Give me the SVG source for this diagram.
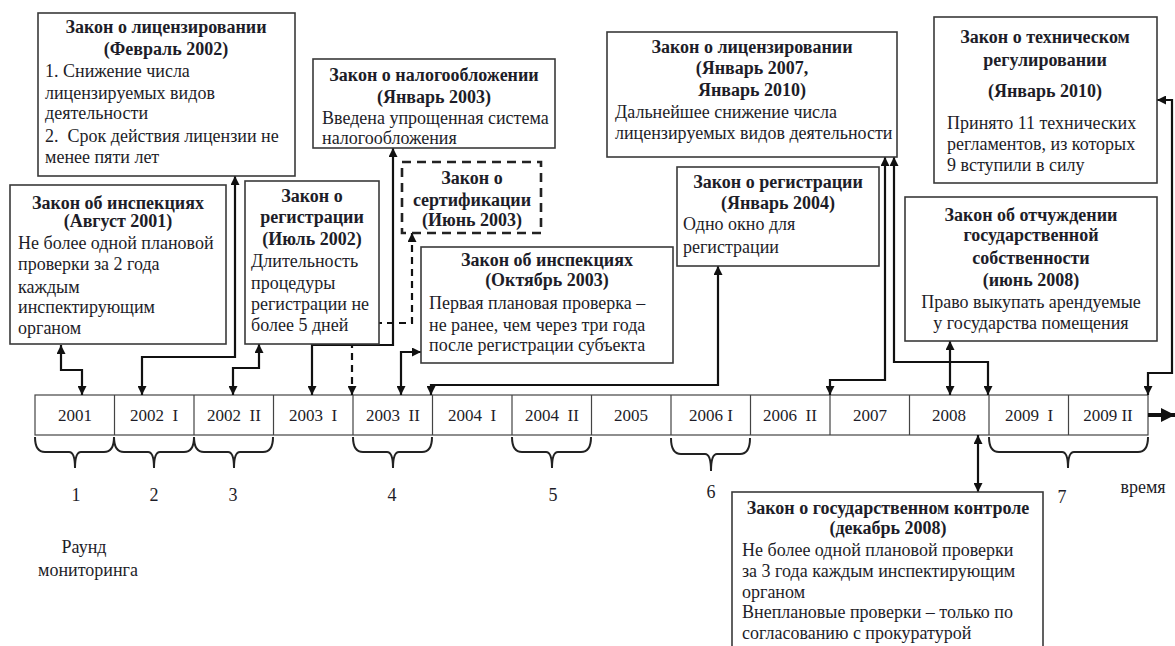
<svg xmlns="http://www.w3.org/2000/svg" width="1175" height="646" viewBox="0 0 1175 646" font-family="'Liberation Serif', 'DejaVu Serif', serif">
<style>
text{font-family:'Liberation Serif','Times New Roman',serif;fill:#1d1d28;font-size:18px}
.t{font-weight:bold;text-anchor:middle}
.c{text-anchor:middle}
.y{text-anchor:middle;font-size:17px}
.box{fill:#fff;stroke:#3a3a3a;stroke-width:1.6}
.dash{fill:#fff;stroke:#222;stroke-width:2.6;stroke-dasharray:9 6}
.ln{fill:none;stroke:#111;stroke-width:2.2;marker-start:url(#ah);marker-end:url(#ah)}
.dl{fill:none;stroke:#111;stroke-width:2.2;stroke-dasharray:7 5;marker-start:url(#ah);marker-end:url(#ah)}
.br{fill:none;stroke:#222;stroke-width:2}
.cell{fill:#fff;stroke:#444;stroke-width:1.2}
</style>
<defs>
<marker id="ah" viewBox="0 0 10 10" refX="10" refY="5" markerWidth="9" markerHeight="9" markerUnits="userSpaceOnUse" orient="auto-start-reverse">
<path d="M0,0 L10,5 L0,10 z" fill="#111"/>
</marker>
<marker id="big" viewBox="0 0 10 10" refX="10" refY="5" markerWidth="14" markerHeight="14" markerUnits="userSpaceOnUse" orient="auto">
<path d="M0,0 L10,5 L0,10 z" fill="#111"/>
</marker>
</defs>

<g id="timeline">
<rect class="cell" x="35" y="395" width="1113" height="40"/>
<path d="M114.5,395V435M194,395V435M273.5,395V435M353,395V435M432.5,395V435M512,395V435M591.5,395V435M671,395V435M750.5,395V435M830,395V435M909.5,395V435M989,395V435M1068.5,395V435" stroke="#444" stroke-width="1.2"/>
<text class="y" x="75" y="421">2001</text>
<text class="y" x="154" y="421">2002&#160; I</text>
<text class="y" x="234" y="421">2002&#160; II</text>
<text class="y" x="313" y="421">2003&#160; I</text>
<text class="y" x="393" y="421">2003&#160; II</text>
<text class="y" x="472" y="421">2004&#160; I</text>
<text class="y" x="552" y="421">2004&#160; II</text>
<text class="y" x="631" y="421">2005</text>
<text class="y" x="711" y="421">2006 I</text>
<text class="y" x="790" y="421">2006&#160; II</text>
<text class="y" x="870" y="421">2007</text>
<text class="y" x="949" y="421">2008</text>
<text class="y" x="1029" y="421">2009&#160; I</text>
<text class="y" x="1108" y="421">2009 II</text>
<path d="M1148,415H1175" stroke="#111" stroke-width="4" marker-end="url(#big)"/>
</g>

<g id="braces">
<path class="br" d="M35,437Q35,452 45,452H69Q75,452 75,468Q75,452 81,452H104Q114,452 114,437"/>
<path class="br" d="M114,437Q114,452 124,452H148Q154,452 154,468Q154,452 160,452H184Q194,452 194,437"/>
<path class="br" d="M194,437Q194,452 204,452H228Q234,452 234,468Q234,452 240,452H263Q273,452 273,437"/>
<path class="br" d="M353,437Q353,452 363,452H387Q393,452 393,468Q393,452 399,452H422Q432,452 432,437"/>
<path class="br" d="M512,437Q512,452 522,452H546Q552,452 552,468Q552,452 558,452H581Q591,452 591,437"/>
<path class="br" d="M671,438Q671,454 681,454H705Q711,454 711,471Q711,454 717,454H740Q750,454 750,438"/>
<path class="br" d="M989,437Q989,452 999,452H1062Q1068,452 1068,468Q1068,452 1074,452H1138Q1148,452 1148,437"/>
<text class="c" x="76" y="501">1</text>
<text class="c" x="154" y="501">2</text>
<text class="c" x="233" y="501">3</text>
<text class="c" x="392" y="501">4</text>
<text class="c" x="553" y="501">5</text>
<text class="c" x="711" y="498">6</text>
<text class="c" x="1062" y="503">7</text>
<text class="c" x="1143" y="493" font-size="20">время</text>
<text class="c" x="84" y="553">Раунд</text>
<text class="c" x="88" y="576">мониторинга</text>
</g>

<g id="connectors">
<path class="ln" d="M61,345V370H82V395"/>
<path class="ln" d="M235,176V357H142V395"/>
<path class="ln" d="M259,344V368H233V395"/>
<path class="ln" d="M393,148V345H312V395"/>
<path class="dl" d="M412,233V323H352V395"/>
<path class="ln" d="M421,352H401V395"/>
<path class="ln" d="M718,266V385H431V395"/>
<path class="ln" d="M885,157V380H830V395"/>
<path class="ln" d="M894,157V362H988V395"/>
<path class="ln" d="M950,341V395"/>
<path class="ln" d="M1157,100H1172V373H1148V395"/>
<path class="ln" d="M978,435V492"/>
</g>

<g id="lic2002">
<rect class="box" x="38" y="13" width="257" height="163"/>
<text class="t" x="166" y="33">Закон о лицензировании</text>
<text class="t" x="166" y="55">(Февраль 2002)</text>
<text x="45" y="77">1. Снижение числа</text>
<text x="45" y="99">лицензируемых видов</text>
<text x="45" y="119">деятельности</text>
<text x="45" y="142">2.&#160; Срок действия лицензии не</text>
<text x="45" y="163">менее пяти лет</text>
</g>

<g id="insp2001">
<rect class="box" x="10" y="185" width="216" height="159"/>
<text class="t" x="118" y="209">Закон об инспекциях</text>
<text class="t" x="118" y="227">(Август 2001)</text>
<text x="18" y="249">Не более одной плановой</text>
<text x="18" y="270">проверки за 2 года</text>
<text x="18" y="293">каждым</text>
<text x="18" y="313">инспектирующим</text>
<text x="18" y="334">органом</text>
</g>

<g id="reg2002">
<rect class="box" x="245" y="181" width="134" height="163"/>
<text class="t" x="312" y="202">Закон о</text>
<text class="t" x="312" y="223">регистрации</text>
<text class="t" x="312" y="245">(Июль 2002)</text>
<text x="251" y="267">Длительность</text>
<text x="251" y="289">процедуры</text>
<text x="251" y="310">регистрации не</text>
<text x="251" y="331">более 5 дней</text>
</g>

<g id="tax2003">
<rect class="box" x="313" y="59" width="242" height="89"/>
<text class="t" x="434" y="81">Закон о налогообложении</text>
<text class="t" x="434" y="103">(Январь 2003)</text>
<text x="322" y="124">Введена упрощенная система</text>
<text x="322" y="144">налогообложения</text>
</g>

<g id="cert2003">
<rect class="dash" x="402" y="162" width="139" height="71"/>
<text class="t" x="472" y="184">Закон о</text>
<text class="t" x="472" y="206">сертификации</text>
<text class="t" x="472" y="226">(Июнь 2003)</text>
</g>

<g id="insp2003">
<rect class="box" x="421" y="247" width="252" height="116"/>
<text class="t" x="547" y="266">Закон об инспекциях</text>
<text class="t" x="547" y="286">(Октябрь 2003)</text>
<text x="429" y="309">Первая плановая проверка –</text>
<text x="429" y="331">не ранее, чем через три года</text>
<text x="429" y="351">после регистрации субъекта</text>
</g>

<g id="reg2004">
<rect class="box" x="677" y="167" width="202" height="99"/>
<text class="t" x="778" y="188">Закон о регистрации</text>
<text class="t" x="778" y="209">(Январь 2004)</text>
<text x="683" y="230">Одно окно для</text>
<text x="683" y="253">регистрации</text>
</g>

<g id="lic2007">
<rect class="box" x="607" y="32" width="290" height="125"/>
<text class="t" x="752" y="53">Закон о лицензировании</text>
<text class="t" x="752" y="74">(Январь 2007,</text>
<text class="t" x="752" y="96">Январь 2010)</text>
<text x="615" y="118">Дальнейшее снижение числа</text>
<text x="615" y="139">лицензируемых видов деятельности</text>
</g>

<g id="tech2010">
<rect class="box" x="934" y="17" width="223" height="166"/>
<text class="t" x="1045" y="43">Закон о техническом</text>
<text class="t" x="1045" y="66">регулировании</text>
<text class="t" x="1045" y="97">(Январь 2010)</text>
<text x="947" y="129">Принято 11 технических</text>
<text x="947" y="150">регламентов, из которых</text>
<text x="947" y="171">9 вступили в силу</text>
</g>

<g id="prop2008">
<rect class="box" x="905" y="197" width="252" height="144"/>
<text class="t" x="1031" y="221">Закон об отчуждении</text>
<text class="t" x="1031" y="241">государственной</text>
<text class="t" x="1031" y="264">собственности</text>
<text class="t" x="1031" y="286">(июнь 2008)</text>
<text class="c" x="1031" y="308">Право выкупать арендуемые</text>
<text class="c" x="1031" y="329">у государства помещения</text>
</g>

<g id="control2008">
<rect class="box" x="732" y="492" width="311" height="200"/>
<text class="t" x="888" y="514">Закон о государственном контроле</text>
<text class="t" x="888" y="534">(декабрь 2008)</text>
<text x="742" y="556">Не более одной плановой проверки</text>
<text x="742" y="577">за 3 года каждым инспектирующим</text>
<text x="742" y="598">органом</text>
<text x="742" y="618">Внеплановые проверки – только по</text>
<text x="742" y="639">согласованию с прокуратурой</text>
</g>
</svg>
